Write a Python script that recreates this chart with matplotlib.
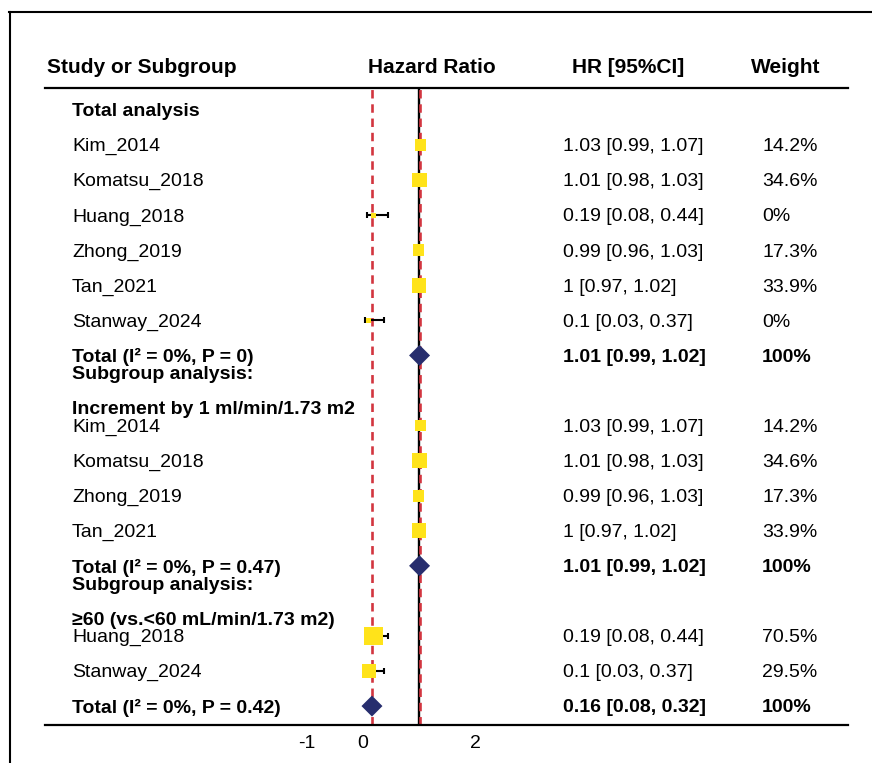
"""Forest plot of eGFR hazard ratios: total analysis and subgroup analyses."""

import numpy as np
import matplotlib

matplotlib.use("Agg")
import matplotlib.pyplot as plt
from matplotlib.lines import Line2D
from matplotlib.transforms import blended_transform_factory

plt.rcParams["font.family"] = ["Liberation Sans", "DejaVu Sans"]

# ---- data -------------------------------------------------------------
group_titles = ["Total analysis", "Increment by 1 ml/min/1.73 m2", "≥60 (vs.<60 mL/min/1.73 m2)"]

studies_total = ["Kim_2014", "Komatsu_2018", "Huang_2018", "Zhong_2019", "Tan_2021", "Stanway_2024"]
hr_total = [1.03, 1.01, 0.19, 0.99, 1.00, 0.10]
lo_total = [0.99, 0.98, 0.08, 0.96, 0.97, 0.03]
hi_total = [1.07, 1.03, 0.44, 1.03, 1.02, 0.37]
weight_total = [14.2, 34.6, 0, 17.3, 33.9, 0]

studies_increment = ["Kim_2014", "Komatsu_2018", "Zhong_2019", "Tan_2021"]
hr_increment = [1.03, 1.01, 0.99, 1.00]
lo_increment = [0.99, 0.98, 0.96, 0.97]
hi_increment = [1.07, 1.03, 1.03, 1.02]
weight_increment = [14.2, 34.6, 17.3, 33.9]

studies_cutoff = ["Huang_2018", "Stanway_2024"]
hr_cutoff = [0.19, 0.10]
lo_cutoff = [0.08, 0.03]
hi_cutoff = [0.44, 0.37]
weight_cutoff = [70.5, 29.5]

pooled_labels = ["Total (I² = 0%, P = 0)", "Total (I² = 0%, P = 0.47)", "Total (I² = 0%, P = 0.42)"]
pooled_hr = [1.01, 1.01, 0.16]
pooled_lo = [0.99, 0.99, 0.08]
pooled_hi = [1.02, 1.02, 0.32]
pooled_weight = [100, 100, 100]

x_ticks = [-1, 0, 2]

# ---- style ------------------------------------------------------------
W, H = 872, 763
YELLOW = "#FFE31A"
NAVY = "#272E6E"
RED = "#D2353F"
FS = 14
DY = 0.05  # small downward nudge of text relative to row centre


def fmt_ci(hr, lo, hi):
    return f"{hr:g} [{lo:g}, {hi:g}]"


def main():
    fig = plt.figure(figsize=(W / 100, H / 100), dpi=100)
    ax = fig.add_axes([45 / W, 38 / H, (848 - 45) / W, (675 - 38) / H])

    # x axis: 0 at 363 px, 56 px per unit
    ax.set_xlim((45 - 363) / 56, (848 - 363) / 56)
    ax.set_ylim(17.54, -0.6275)
    for side in ("left", "right"):
        ax.spines[side].set_visible(False)
    for side in ("top", "bottom"):
        ax.spines[side].set_linewidth(1.6)
    ax.set_yticks([])
    ax.set_xticks(x_ticks, [str(t) for t in x_ticks], fontsize=FS)
    ax.tick_params(axis="x", length=0, pad=7)

    tr = blended_transform_factory(fig.transFigure, ax.transData)
    label_x, hr_x, wt_x = 72 / W, 563 / W, 762 / W

    # header
    head_y = -1.22
    ax.text(47 / W, head_y, "Study or Subgroup", transform=tr, fontsize=15, fontweight="bold", va="center")
    ax.text(432 / W, head_y, "Hazard Ratio", transform=tr, fontsize=15, fontweight="bold", va="center", ha="center")
    ax.text(628 / W, head_y, "HR [95%CI]", transform=tr, fontsize=15, fontweight="bold", va="center", ha="center")
    ax.text(786 / W, head_y, "Weight", transform=tr, fontsize=15, fontweight="bold", va="center", ha="center")

    # reference lines
    ax.axvline(1, color="black", lw=1.7, zorder=1)
    for ref in (pooled_hr[0], pooled_hr[2]):
        ax.axvline(ref, color=RED, lw=1.9, ls=(0, (3.2, 2.2)), zorder=1.5)

    blocks = [
        (studies_total, hr_total, lo_total, hi_total, weight_total),
        (studies_increment, hr_increment, lo_increment, hi_increment, weight_increment),
        (studies_cutoff, hr_cutoff, lo_cutoff, hi_cutoff, weight_cutoff),
    ]
    row = 0
    for i, (names, hr, lo, hi, wt) in enumerate(blocks):
        if i == 0:
            ax.text(label_x, row + DY, group_titles[i], transform=tr, fontsize=FS, fontweight="bold", va="center")
        else:
            ax.text(label_x, row - 0.5 + DY, "Subgroup analysis:", transform=tr, fontsize=FS,
                    fontweight="bold", va="center")
            ax.text(label_x, row + 0.5 + DY, group_titles[i], transform=tr, fontsize=FS,
                    fontweight="bold", va="center")
        row += 1

        ys = np.arange(row, row + len(names))
        hr_a, lo_a, hi_a, wt_a = map(np.asarray, (hr, lo, hi, wt))
        ax.errorbar(hr_a, ys, xerr=[hr_a - lo_a, hi_a - hr_a], fmt="none", ecolor="black",
                    elinewidth=1.5, capsize=2.2, capthick=1.5, zorder=2)
        side_pt = (5 + 1.65 * np.sqrt(wt_a)) * 0.72
        ax.scatter(hr_a, ys, marker="s", s=side_pt ** 2, color=YELLOW, edgecolors="none", zorder=3)
        for y, name, h, l, u, w in zip(ys, names, hr, lo, hi, wt):
            ax.text(label_x, y + DY, name, transform=tr, fontsize=FS, va="center")
            ax.text(hr_x, y + DY, fmt_ci(h, l, u), transform=tr, fontsize=FS, va="center")
            ax.text(wt_x, y + DY, f"{w:g}%", transform=tr, fontsize=FS, va="center")
        row += len(names)

        ax.scatter([pooled_hr[i]], [row], marker="D", s=(21 / np.sqrt(2) * 0.72) ** 2,
                   color=NAVY, edgecolors="none", zorder=4)
        ax.text(label_x, row + DY, pooled_labels[i], transform=tr, fontsize=FS, fontweight="bold", va="center")
        ax.text(hr_x, row + DY, fmt_ci(pooled_hr[i], pooled_lo[i], pooled_hi[i]), transform=tr,
                fontsize=FS, fontweight="bold", va="center")
        ax.text(wt_x, row + DY, f"{pooled_weight[i]:g}%", transform=tr, fontsize=FS,
                fontweight="bold", va="center")
        row += 1

    # outer frame (top and left edges of the original panel)
    fig.add_artist(Line2D([9 / W, 1], [1 - 11.5 / H] * 2, color="black", lw=1.5, transform=fig.transFigure))
    fig.add_artist(Line2D([10 / W] * 2, [0, 1 - 11.5 / H], color="black", lw=1.5, transform=fig.transFigure))

    fig.savefig("out.png", dpi=100, facecolor="white")
    plt.close(fig)


if __name__ == "__main__":
    main()
